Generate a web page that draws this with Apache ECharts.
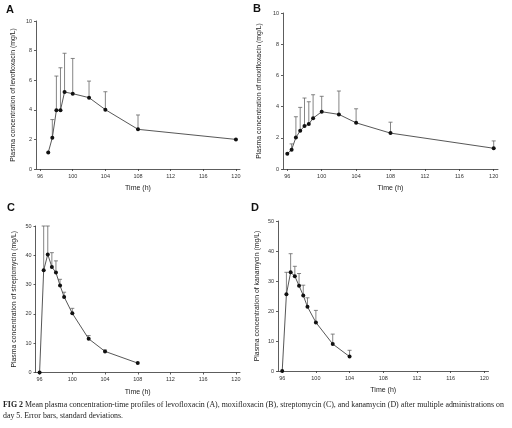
<!DOCTYPE html>
<html>
<head>
<meta charset="utf-8">
<script src="https://cdn.jsdelivr.net/npm/echarts@6/dist/echarts.min.js"></script>
<style>
html,body{margin:0;padding:0;background:#fff;}
#c{width:512px;height:428px;}
</style>
</head>
<body>
<div id="c"></div>
<script>
// ---- data ----
const xTicks = [96, 100, 104, 108, 112, 116, 120];

const timesA = [97, 97.5, 98, 98.5, 99, 100, 102, 104, 108, 120];
const meanA  = [1.12, 2.11, 3.97, 3.97, 5.2, 5.09, 4.82, 4.01, 2.68, 2.0];
const sdA    = [null, 1.23, 2.31, 2.87, 2.62, 2.38, 1.12, 1.21, 0.97, null];

const timesB = [96, 96.5, 97, 97.5, 98, 98.5, 99, 100, 102, 104, 108, 120];
const meanB  = [0.97, 1.24, 2.02, 2.45, 2.75, 2.88, 3.26, 3.67, 3.5, 2.96, 2.3, 1.33];
const sdB    = [null, 0.37, 1.33, 1.5, 1.8, 1.43, 1.5, 0.99, 1.5, 0.9, 0.7, 0.47];

const timesC = [96, 96.5, 97, 97.5, 98, 98.5, 99, 100, 102, 104, 108];
const meanC  = [0, 34.9, 40.3, 36.0, 34.1, 29.7, 25.8, 20.2, 11.5, 7.2, 3.2];
const sdC    = [null, 15.1, 9.7, 4.9, 4.0, 2.1, 1.6, 1.7, 1.1, 0.5, null];

const timesD = [96, 96.5, 97, 97.5, 98, 98.5, 99, 100, 102, 104];
const meanD  = [0, 25.6, 32.9, 31.6, 28.4, 25.2, 21.4, 16.2, 9.0, 4.8];
const sdD    = [null, 7.3, 6.2, 3.3, 4.1, 3.4, 3.0, 4.0, 3.3, 2.1];

const yTitles = [
  'Plasma concentration of levofloxacin (mg/L)',
  'Plasma concentration of moxifloxacin (mg/L)',
  'Plasma concentration of streptomycin (mg/L)',
  'Plasma concentration of kanamycin (mg/L)'
];
const yMax = [10, 10, 50, 50];
const yStep = [2, 2, 10, 10];
const panelLetters = ['A', 'B', 'C', 'D'];

// ---- layout ----
const grids = [
  {left: 36,  top: 21,  width: 204, height: 148},
  {left: 283, top: 13,  width: 215, height: 156},
  {left: 35.5,top: 226, width: 204.5, height: 146.5},
  {left: 278, top: 221, width: 210.5, height: 150}
];
const yNameGap = [19, 20, 18, 17];
const FONT = 'Liberation Sans, Arial, sans-serif';
const AX = '#333';

const sets = [
  [timesA, meanA, sdA],
  [timesB, meanB, sdB],
  [timesC, meanC, sdC],
  [timesD, meanD, sdD]
];

const xAxes = [], yAxes = [], series = [];
grids.forEach((g, i) => {
  xAxes.push({
    type: 'value', gridIndex: i, min: 95.5, max: 120.5,
    name: 'Time (h)', nameLocation: 'middle', nameGap: 16,
    nameTextStyle: {fontFamily: FONT, fontSize: 7, color: '#222'},
    axisLine: {show: true, lineStyle: {color: AX, width: 0.8}},
    axisTick: {show: true, length: 2, lineStyle: {color: AX, width: 0.8}, customValues: xTicks},
    axisLabel: {fontFamily: FONT, fontSize: 5.5, color: '#333', margin: 4, customValues: xTicks},
    splitLine: {show: false}
  });
  yAxes.push({
    type: 'value', gridIndex: i, min: 0, max: yMax[i], interval: yStep[i],
    name: yTitles[i], nameLocation: 'middle', nameGap: yNameGap[i],
    nameTextStyle: {fontFamily: FONT, fontSize: 6.9, color: '#222'},
    axisLine: {show: true, lineStyle: {color: AX, width: 0.8}},
    axisTick: {show: true, length: 2, lineStyle: {color: AX, width: 0.8}},
    axisLabel: {fontFamily: FONT, fontSize: 5.5, color: '#333', margin: 4},
    splitLine: {show: false}
  });
  const [t, m, s] = sets[i];
  series.push({
    type: 'custom', xAxisIndex: i, yAxisIndex: i, z: 1,
    data: t.map((x, k) => [x, m[k], s[k] == null ? m[k] : m[k] + s[k]]),
    renderItem: function (params, api) {
      const x = api.value(0), y = api.value(1), top = api.value(2);
      if (top <= y) return null;
      const p0 = api.coord([x, y]);
      const p1 = api.coord([x, top]);
      const st = {stroke: '#666', lineWidth: 0.8};
      return {
        type: 'group',
        children: [
          {type: 'line', shape: {x1: p0[0], y1: p0[1], x2: p1[0], y2: p1[1]}, style: st},
          {type: 'line', shape: {x1: p1[0] - 2, y1: p1[1], x2: p1[0] + 2, y2: p1[1]}, style: st}
        ]
      };
    }
  });
  series.push({
    type: 'line', xAxisIndex: i, yAxisIndex: i, z: 3,
    data: t.map((x, k) => [x, m[k]]),
    symbol: 'circle', symbolSize: 4,
    itemStyle: {color: '#111'},
    lineStyle: {color: '#444', width: 0.9},
    animation: false
  });
});

const letterPos = [[6, 4], [253, 3], [7, 202], [251, 202]];
const graphics = panelLetters.map((L, i) => ({
  type: 'text', left: letterPos[i][0], top: letterPos[i][1],
  style: {text: L, font: 'bold 11px ' + FONT, fill: '#111'}
}));
graphics.push({
  type: 'text', left: 3, top: 399,
  style: {
    text: '{b|FIG 2} Mean plasma concentration-time profiles of levofloxacin (A), moxifloxacin (B), streptomycin (C), and kanamycin (D) after multiple administrations on\nday 5. Error bars, standard deviations.',
    rich: {b: {fontWeight: 'bold', fontFamily: 'Liberation Serif, serif', fontSize: 7.9, fill: '#222'}},
    fontFamily: 'Liberation Serif, serif', fontSize: 7.9, fill: '#222', lineHeight: 11
  }
});

const chart = echarts.init(document.getElementById('c'), null, {renderer: 'canvas'});
chart.setOption({
  animation: false,
  backgroundColor: '#fff',
  grid: grids.map(g => Object.assign({containLabel: false, outerBoundsMode: 'none'}, g)),
  xAxis: xAxes,
  yAxis: yAxes,
  series: series,
  graphic: graphics
});
</script>
</body>
</html>
